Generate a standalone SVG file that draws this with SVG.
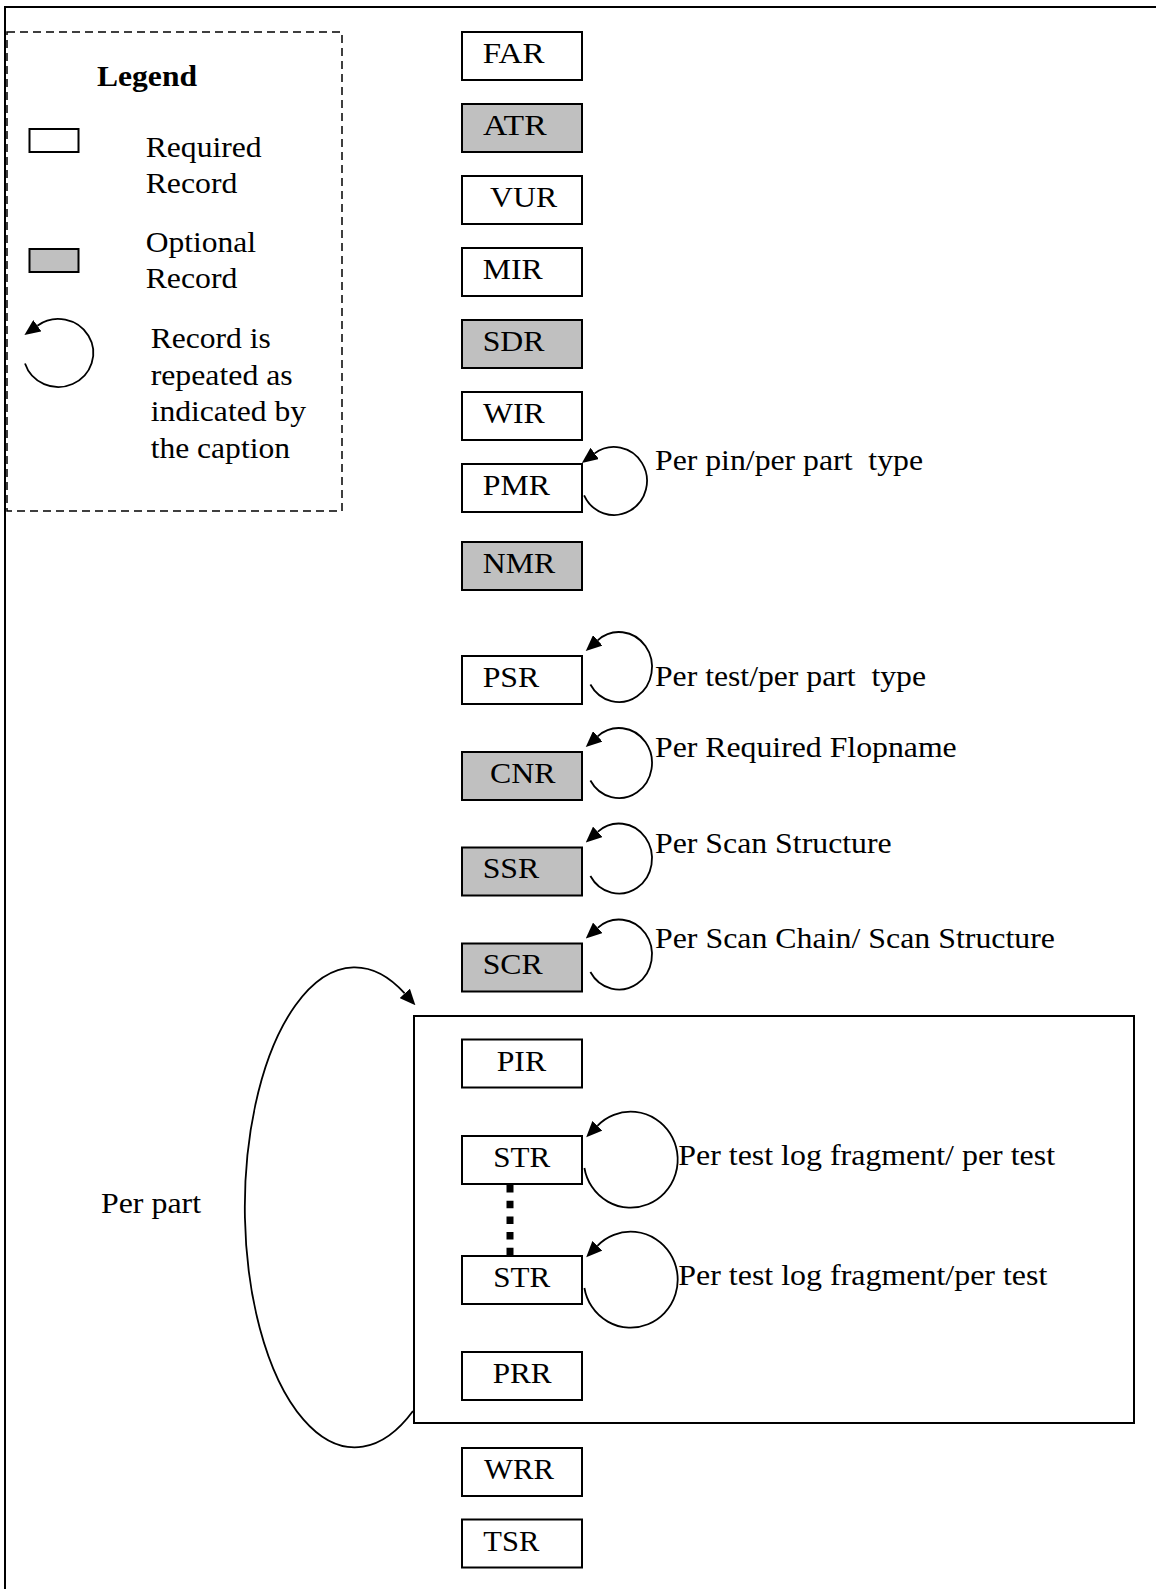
<svg xmlns="http://www.w3.org/2000/svg" width="1156" height="1589" viewBox="0 0 1156 1589">
<style>
text{font-family:"Liberation Serif","Times New Roman",serif;font-size:29px;fill:#000;white-space:pre}
.bold{font-weight:bold}
.req{fill:#fff;stroke:#000;stroke-width:2}
.opt{fill:#c0c0c0;stroke:#000;stroke-width:2}
.loop{fill:none;stroke:#000;stroke-width:1.8;marker-end:url(#ah)}
</style>
<defs>
<marker id="ah" markerUnits="userSpaceOnUse" markerWidth="16" markerHeight="14" refX="0" refY="7" orient="auto">
<path d="M0,0 L16,7 L0,14 z" fill="#000"/>
</marker>
</defs>
<rect x="0" y="0" width="1156" height="1589" fill="#fff"/>
<path d="M5,1589 V7 H1156" fill="none" stroke="#000" stroke-width="2"/>

<g id="legend">
<rect x="7" y="32" width="335" height="479" fill="none" stroke="#000" stroke-width="1.5" stroke-dasharray="8 5"/>
<text class="bold" x="97" y="86" textLength="100" lengthAdjust="spacingAndGlyphs">Legend</text>
<rect class="req" x="29.5" y="129" width="49" height="23"/>
<text x="145.7" y="156.7" textLength="116" lengthAdjust="spacingAndGlyphs">Required</text>
<text x="145.7" y="193.3" textLength="91.7" lengthAdjust="spacingAndGlyphs">Record</text>
<rect class="opt" x="29.5" y="249" width="49" height="23"/>
<text x="145.7" y="252.3" textLength="110.3" lengthAdjust="spacingAndGlyphs">Optional</text>
<text x="145.7" y="288.3" textLength="91.7" lengthAdjust="spacingAndGlyphs">Record</text>
<path class="loop" d="M25,363.5 A35,34 0 1 0 37.4,325.7"/>
<text x="150.7" y="348.3" textLength="120" lengthAdjust="spacingAndGlyphs">Record is</text>
<text x="150.7" y="385" textLength="142" lengthAdjust="spacingAndGlyphs">repeated as</text>
<text x="150.7" y="420.7" textLength="155.3" lengthAdjust="spacingAndGlyphs">indicated by</text>
<text x="150.7" y="458.3" textLength="139.3" lengthAdjust="spacingAndGlyphs">the caption</text>
</g>

<g id="FAR"><rect class="req" x="462" y="32" width="120" height="48"/><text x="482.7" y="63" textLength="61.8" lengthAdjust="spacingAndGlyphs">FAR</text></g>
<g id="ATR"><rect class="opt" x="462" y="104" width="120" height="48"/><text x="483" y="135" textLength="63.6" lengthAdjust="spacingAndGlyphs">ATR</text></g>
<g id="VUR"><rect class="req" x="462" y="176" width="120" height="48"/><text x="490" y="207" textLength="67.1" lengthAdjust="spacingAndGlyphs">VUR</text></g>
<g id="MIR"><rect class="req" x="462" y="248" width="120" height="48"/><text x="482.7" y="279" textLength="60" lengthAdjust="spacingAndGlyphs">MIR</text></g>
<g id="SDR"><rect class="opt" x="462" y="320" width="120" height="48"/><text x="482.7" y="351" textLength="61.8" lengthAdjust="spacingAndGlyphs">SDR</text></g>
<g id="WIR"><rect class="req" x="462" y="392" width="120" height="48"/><text x="483" y="423" textLength="61.8" lengthAdjust="spacingAndGlyphs">WIR</text></g>
<g id="PMR"><rect class="req" x="462" y="464" width="120" height="48"/><text x="482.7" y="495" textLength="67.2" lengthAdjust="spacingAndGlyphs">PMR</text></g>
<g id="NMR"><rect class="opt" x="462" y="542" width="120" height="48"/><text x="482.7" y="573" textLength="72.4" lengthAdjust="spacingAndGlyphs">NMR</text></g>
<g id="PSR"><rect class="req" x="462" y="656" width="120" height="48"/><text x="482.7" y="687" textLength="56.6" lengthAdjust="spacingAndGlyphs">PSR</text></g>
<g id="CNR"><rect class="opt" x="462" y="752" width="120" height="48"/><text x="490" y="782.7" textLength="65.4" lengthAdjust="spacingAndGlyphs">CNR</text></g>
<g id="SSR"><rect class="opt" x="462" y="847.5" width="120" height="48"/><text x="482.7" y="878.3" textLength="56.6" lengthAdjust="spacingAndGlyphs">SSR</text></g>
<g id="SCR"><rect class="opt" x="462" y="943.5" width="120" height="48"/><text x="482.7" y="974.3" textLength="60.1" lengthAdjust="spacingAndGlyphs">SCR</text></g>

<g id="per-part-group"><rect x="414" y="1016" width="720" height="407" fill="none" stroke="#000" stroke-width="2"/></g>
<g id="PIR"><rect class="req" x="462" y="1039.5" width="120" height="48"/><text x="496.7" y="1071" textLength="49.5" lengthAdjust="spacingAndGlyphs">PIR</text></g>
<g id="STR1"><rect class="req" x="462" y="1136" width="120" height="48"/><text x="493.3" y="1167.3" textLength="57" lengthAdjust="spacingAndGlyphs">STR</text></g>
<g id="STR2"><rect class="req" x="462" y="1256" width="120" height="48"/><text x="493.3" y="1286.7" textLength="57" lengthAdjust="spacingAndGlyphs">STR</text></g>
<g id="PRR"><rect class="req" x="462" y="1352" width="120" height="48"/><text x="492.7" y="1382.7" textLength="59" lengthAdjust="spacingAndGlyphs">PRR</text></g>
<g id="WRR"><rect class="req" x="462" y="1448" width="120" height="48"/><text x="484" y="1478.7" textLength="70" lengthAdjust="spacingAndGlyphs">WRR</text></g>
<g id="TSR"><rect class="req" x="462" y="1519.5" width="120" height="48"/><text x="483.3" y="1551" textLength="56" lengthAdjust="spacingAndGlyphs">TSR</text></g>

<g id="connectors">
<path class="loop" d="M584.1,495.4 A33,34 0 1 0 594.7,453.4"/>
<path class="loop" d="M590.4,684.5 A33,35 0 1 0 597.7,640.3"/>
<path class="loop" d="M590.4,780.5 A33,35 0 1 0 597.7,736.3"/>
<path class="loop" d="M590.4,876 A33,35 0 1 0 597.7,831.8"/>
<path class="loop" d="M590.4,972 A33,35 0 1 0 597.7,927.8"/>
<path class="loop" d="M584.4,1168 A47,48 0 1 0 597.4,1125.8"/>
<path class="loop" d="M584.4,1288 A47,48 0 1 0 597.4,1245.8"/>
<path class="loop" d="M413,1411 A110,240 0 1 1 404.7,993.4"/>
<line x1="510" y1="1185" x2="510" y2="1256" stroke="#000" stroke-width="7" stroke-dasharray="7.5 8.2"/>
</g>

<g id="captions">
<text x="655" y="470" textLength="268" lengthAdjust="spacingAndGlyphs">Per pin/per part  type</text>
<text x="655" y="686" textLength="271" lengthAdjust="spacingAndGlyphs">Per test/per part  type</text>
<text x="655" y="756.7" textLength="301.7" lengthAdjust="spacingAndGlyphs">Per Required Flopname</text>
<text x="655" y="853.3" textLength="236.7" lengthAdjust="spacingAndGlyphs">Per Scan Structure</text>
<text x="655" y="948.3" textLength="400" lengthAdjust="spacingAndGlyphs">Per Scan Chain/ Scan Structure</text>
<text x="678.3" y="1165" textLength="376.7" lengthAdjust="spacingAndGlyphs">Per test log fragment/ per test</text>
<text x="678.3" y="1285" textLength="369" lengthAdjust="spacingAndGlyphs">Per test log fragment/per test</text>
<text x="101" y="1213" textLength="100" lengthAdjust="spacingAndGlyphs">Per part</text>
</g>
</svg>
